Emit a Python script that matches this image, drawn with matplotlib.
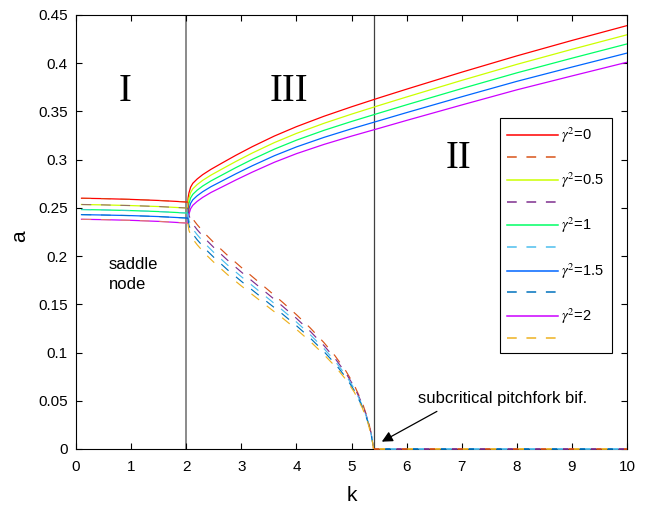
import matplotlib
matplotlib.use("Agg")
import matplotlib.pyplot as plt

plt.rcParams['font.family'] = ['Liberation Sans', 'DejaVu Sans']
plt.rcParams['mathtext.fontset'] = 'stix'
plt.rcParams['lines.scale_dashes'] = False

# ---------------- data ----------------
gamma_labels = ['$\\gamma^2$=0', '$\\gamma^2$=0.5', '$\\gamma^2$=1', '$\\gamma^2$=1.5', '$\\gamma^2$=2']
solid_colors = ['#FF0000', '#CCFF00', '#00FF66', '#0066FF', '#CC00FF']
dash_colors = ['#D95319', '#7E2F8E', '#4DBEEE', '#0072BD', '#EDB120']

# region I (small-amplitude branch, k < 2)
k_low = [0.1, 0.5, 1.0, 1.5, 1.8, 2.0, 2.03]
low_0 = [0.2600, 0.2596, 0.2588, 0.2577, 0.2568, 0.2561, 0.2560]
low_05 = [0.2535, 0.2531, 0.2524, 0.2514, 0.2505, 0.2499, 0.2497]
low_1 = [0.2483, 0.2479, 0.2472, 0.2462, 0.2453, 0.2447, 0.2445]
low_15 = [0.2430, 0.2426, 0.2420, 0.2410, 0.2401, 0.2395, 0.2393]
low_2 = [0.2382, 0.2378, 0.2371, 0.2360, 0.2350, 0.2343, 0.2340]

# upper stable branch (solid)
k_up = [2.03, 2.035, 2.05, 2.08, 2.12, 2.2, 2.3, 2.45, 2.65, 2.9, 3.2, 3.6, 4.0, 4.5, 5.0, 5.5, 6.0, 7.0, 8.0, 9.0, 10.0]
up_0 = [0.2560, 0.2605, 0.2655, 0.2715, 0.2755, 0.2800, 0.2845, 0.2900, 0.2965, 0.3045, 0.3135, 0.3245, 0.3342, 0.3450, 0.3548, 0.3641, 0.3731, 0.3907, 0.4076, 0.4236, 0.4390]
up_05 = [0.2497, 0.2550, 0.2600, 0.2659, 0.2698, 0.2742, 0.2786, 0.2840, 0.2903, 0.2981, 0.3069, 0.3177, 0.3272, 0.3377, 0.3472, 0.3562, 0.3650, 0.3822, 0.3988, 0.4144, 0.4295]
up_1 = [0.2445, 0.2495, 0.2545, 0.2603, 0.2641, 0.2684, 0.2727, 0.2780, 0.2841, 0.2917, 0.3003, 0.3109, 0.3202, 0.3304, 0.3396, 0.3483, 0.3569, 0.3737, 0.3900, 0.4052, 0.4200]
up_15 = [0.2393, 0.2440, 0.2490, 0.2547, 0.2584, 0.2626, 0.2668, 0.2720, 0.2779, 0.2853, 0.2937, 0.3041, 0.3132, 0.3231, 0.3320, 0.3404, 0.3488, 0.3652, 0.3812, 0.3960, 0.4105]
up_2 = [0.2340, 0.2385, 0.2435, 0.2491, 0.2527, 0.2568, 0.2609, 0.2660, 0.2717, 0.2789, 0.2871, 0.2973, 0.3062, 0.3158, 0.3244, 0.3325, 0.3407, 0.3567, 0.3724, 0.3868, 0.4010]

# unstable branch (dashed)
k_un = [2.03, 2.05, 2.1, 2.2, 2.35, 2.5, 2.75, 3.0, 3.25, 3.5, 3.75, 4.0, 4.25, 4.5, 4.7, 4.9, 5.05, 5.2, 5.3, 5.36, 5.39, 5.40]
un_0 = [0.2560, 0.2475, 0.2400, 0.2325, 0.2228, 0.2141, 0.2008, 0.1883, 0.1763, 0.1643, 0.1521, 0.1393, 0.1256, 0.1103, 0.0967, 0.0807, 0.0662, 0.0474, 0.0304, 0.0154, 0.0049, 0.0]
un_05 = [0.2497, 0.2423, 0.2348, 0.2273, 0.2176, 0.2090, 0.1958, 0.1835, 0.1717, 0.1599, 0.1480, 0.1355, 0.1221, 0.1072, 0.0940, 0.0785, 0.0644, 0.0461, 0.0295, 0.0149, 0.0047, 0.0]
un_1 = [0.2445, 0.2371, 0.2296, 0.2221, 0.2124, 0.2039, 0.1908, 0.1787, 0.1671, 0.1555, 0.1439, 0.1317, 0.1186, 0.1041, 0.0913, 0.0763, 0.0626, 0.0448, 0.0286, 0.0144, 0.0045, 0.0]
un_15 = [0.2393, 0.2319, 0.2244, 0.2169, 0.2072, 0.1988, 0.1858, 0.1739, 0.1625, 0.1511, 0.1398, 0.1279, 0.1151, 0.1010, 0.0886, 0.0741, 0.0608, 0.0435, 0.0277, 0.0139, 0.0043, 0.0]
un_2 = [0.2340, 0.2267, 0.2192, 0.2117, 0.2020, 0.1937, 0.1808, 0.1691, 0.1579, 0.1467, 0.1357, 0.1241, 0.1116, 0.0979, 0.0859, 0.0719, 0.0590, 0.0422, 0.0268, 0.0134, 0.0041, 0.0]

# trivial branch (a = 0) for k beyond the pitchfork
k_zero = [5.40, 10.0]
zero_branch = [0.0, 0.0]

k_saddle = 2.0
k_pitch = 5.40

x_ticks = [0, 1, 2, 3, 4, 5, 6, 7, 8, 9, 10]
y_ticks = [0, 0.05, 0.1, 0.15, 0.2, 0.25, 0.3, 0.35, 0.4, 0.45]
y_ticklabels = ['0', '0.05', '0.1', '0.15', '0.2', '0.25', '0.3', '0.35', '0.4', '0.45']

lows = [low_0, low_05, low_1, low_15, low_2]
ups = [up_0, up_05, up_1, up_15, up_2]
uns = [un_0, un_05, un_1, un_15, un_2]

# ---------------- figure ----------------
fig = plt.figure(figsize=(6.46, 5.05), dpi=100)
ax = fig.add_axes([76 / 646, 1 - 449 / 505, (627 - 76) / 646, (449 - 15) / 505])

ax.axvline(k_saddle, color='#8a8a8a', lw=1.4, zorder=1)
ax.axvline(k_pitch, color='#404040', lw=0.9, zorder=1)

DASH = (0, (7, 7))
handles = []
for i in range(5):
    ax.plot(k_low, lows[i], color=solid_colors[i], lw=0.9, zorder=2)
    hs, = ax.plot(k_up, ups[i], color=solid_colors[i], lw=0.9, zorder=2)
    ax.plot(k_low, lows[i], color=dash_colors[i], lw=0.8, ls=DASH, alpha=0.7, zorder=3)
    hd, = ax.plot(k_un, uns[i], color=dash_colors[i], lw=0.85, ls=DASH, zorder=3)
    ax.plot(k_zero, zero_branch, color=dash_colors[i], lw=1.3,
            ls=(i * 4, (4, 16)), zorder=3, clip_on=False)
    handles += [hs, hd]

labels = []
for i in range(5):
    labels += [gamma_labels[i], ' ']

leg = ax.legend(handles, labels, loc='upper left',
                bbox_to_anchor=(500 / 646, 1 - 118 / 505), bbox_transform=fig.transFigure,
                borderaxespad=0, fancybox=False, framealpha=1, edgecolor='black',
                fontsize=10.5, handlelength=3.5, labelspacing=0.40, handletextpad=0.2,
                borderpad=0.5)
leg.get_frame().set_linewidth(0.8)
for ln in leg.get_lines():
    ln.set_linewidth(1.1)

ax.set_xlim(0, 10)
ax.set_ylim(0, 0.45)
ax.set_xticks(x_ticks)
ax.set_yticks(y_ticks)
ax.set_yticklabels(y_ticklabels)
ax.tick_params(direction='in', length=4, width=0.8, top=True, right=True,
               labelsize=11, colors='black')
ax.tick_params(axis='x', pad=8)
ax.tick_params(axis='y', pad=6)
for s in ax.spines.values():
    s.set_linewidth(0.8)

ax.set_xlabel('k', fontsize=15)
ax.set_ylabel('a', fontsize=15, rotation=90)
ax.xaxis.set_label_coords(0.5, -0.085)
ax.yaxis.set_label_coords(-0.085, 0.49)

serif = ['Liberation Serif', 'DejaVu Serif']
ax.text(0.89, 0.371, 'I', fontsize=28, family=serif, ha='center', va='center')
ax.text(3.87, 0.371, 'III', fontsize=28, family=serif, ha='center', va='center')
ax.text(6.95, 0.301, 'II', fontsize=28, family=serif, ha='center', va='center')

ax.text(0.6, 0.181, 'saddle\nnode', fontsize=12, ha='left', va='center', linespacing=1.45)
ax.text(7.75, 0.052, 'subcritical pitchfork bif.', fontsize=12, ha='center', va='center')
ax.annotate('', xy=(5.55, 0.0076), xytext=(6.55, 0.039),
            arrowprops=dict(arrowstyle='-|>', color='black', lw=0.9,
                            mutation_scale=16, shrinkA=0, shrinkB=0))

fig.savefig('out.png', dpi=100)
